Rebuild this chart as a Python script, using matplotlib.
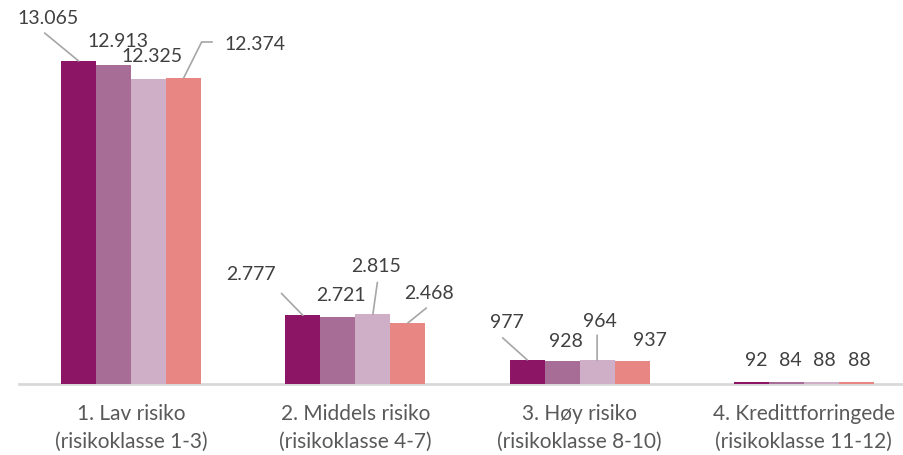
import numpy as np
import matplotlib
matplotlib.use('Agg')
import matplotlib.pyplot as plt
from matplotlib.transforms import offset_copy

categories = ['1. Lav risiko\n(risikoklasse 1-3)', '2. Middels risiko\n(risikoklasse 4-7)',
              '3. Høy risiko\n(risikoklasse 8-10)', '4. Kredittforringede\n(risikoklasse 11-12)']
series_1 = [13065, 2777, 977, 92]
series_2 = [12913, 2721, 928, 84]
series_3 = [12325, 2815, 964, 88]
series_4 = [12374, 2468, 937, 88]
labels = [['13.065', '2.777', '977', '92'],
          ['12.913', '2.721', '928', '84'],
          ['12.325', '2.815', '964', '88'],
          ['12.374', '2.468', '937', '88']]

colors = ['#8C1566', '#A86D96', '#CFAEC8', '#E88683']

# label offsets from bar top, in pixels (dx, dy up), per series per group
text_off = [[(-31, 43), (-52, 42), (-20, 38), (4.5, 22)],
            [(4, 24), (3.5, 22), (3.5, 21), (3.5, 22)],
            [(3, 24), (3.5, 49), (2.5, 40), (3.5, 22)],
            [(71, 35), (21.5, 30), (17.5, 21), (3.5, 22)]]
# leader lines: (series, group, end offset, optional horizontal tail end)
leaders = [(0, 0, (-34, 28), None),
           (3, 0, (18, 36), (28, 36)),
           (0, 1, (-21.5, 22), None),
           (2, 1, (4.5, 32), None),
           (3, 1, (18.5, 15), None),
           (0, 2, (-24.5, 22), None),
           (2, 2, (0, 25), None)]

plt.rcParams['font.family'] = ['Lato', 'DejaVu Sans']

W, H = 904, 456
fig = plt.figure(figsize=(W / 100, H / 100), dpi=100)
# plot area runs from x=19 to 916 px, baseline at y=384 px
ax = fig.add_axes([19 / W, (H - 385) / H, 897 / W, 385 / H])

x = np.arange(len(categories))
bw = 0.156
data = [series_1, series_2, series_3, series_4]
for i, vals in enumerate(data):
    xs = x + (i - 1.5) * bw
    ax.bar(xs, vals, bw, color=colors[i], linewidth=0, zorder=3)
    for j, v in enumerate(vals):
        dx, dy = text_off[i][j]
        ax.annotate(labels[i][j], xy=(xs[j], v), xytext=(dx, dy), textcoords='offset pixels',
                    ha='center', va='center', fontsize=14, color='#404040', zorder=4)

ax.set_xlim(-0.5, 3.5)
ax.set_ylim(0, 385 / (323 / 13065))

for i, j, end, tail in leaders:
    xs = x[j] + (i - 1.5) * bw
    v = data[i][j]
    ax.annotate('', xy=(xs, v), xytext=end, textcoords='offset pixels',
                arrowprops=dict(arrowstyle='-', color='#A6A6A6', lw=1.2, shrinkA=0, shrinkB=0))
    if tail is not None:
        t1 = offset_copy(ax.transData, fig=fig, x=end[0], y=end[1], units='dots')
        t2 = offset_copy(ax.transData, fig=fig, x=tail[0], y=tail[1], units='dots')
        p1 = t1.transform((xs, v))
        p2 = t2.transform((xs, v))
        fig.add_artist(plt.Line2D([p1[0] / W, p2[0] / W], [p1[1] / H, p2[1] / H],
                                  transform=fig.transFigure, color='#A6A6A6', lw=1.2))

ax.set_xticks(x)
ax.set_xticklabels(categories, fontsize=15, color='#595959', linespacing=1.45)
ax.tick_params(axis='x', length=0, pad=14)
ax.set_yticks([])
for s in ['top', 'right', 'left']:
    ax.spines[s].set_visible(False)
ax.spines['bottom'].set_color('#D9D9D9')
ax.spines['bottom'].set_linewidth(2)
ax.spines['bottom'].set_zorder(1)

fig.savefig('out.png', dpi=100)
